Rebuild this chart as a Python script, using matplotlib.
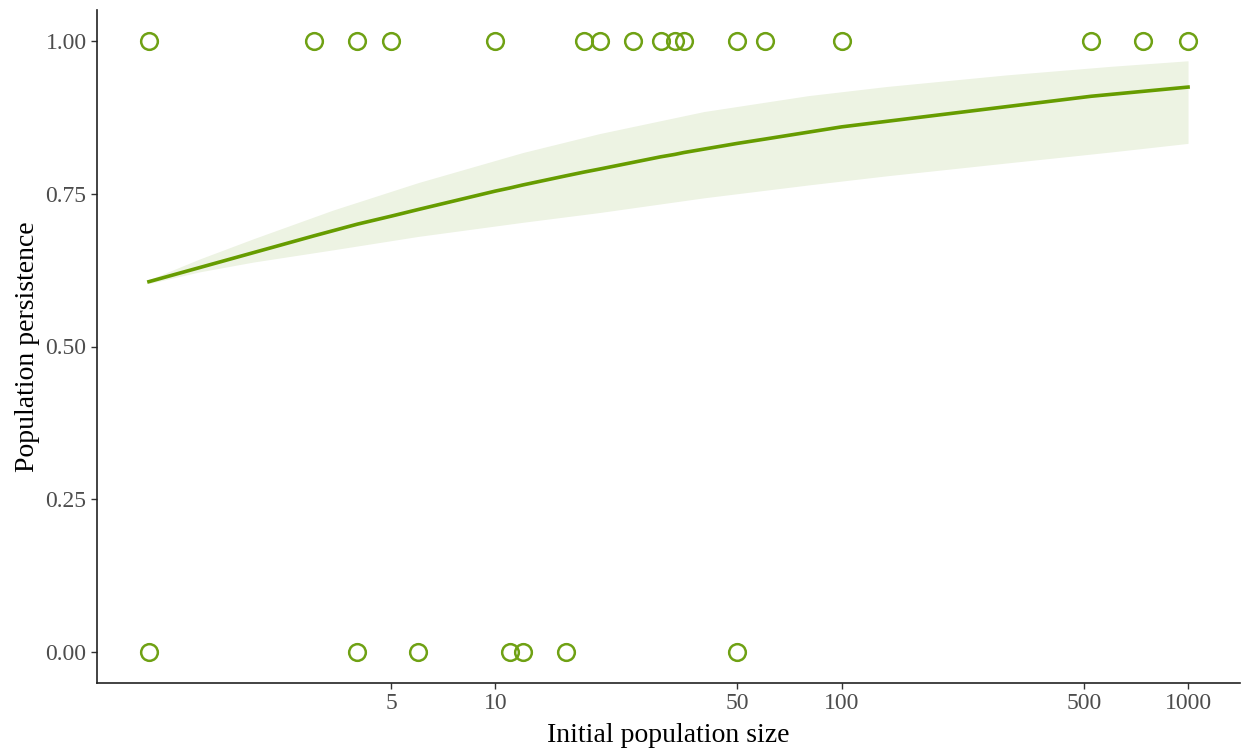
import numpy as np
import matplotlib.pyplot as plt

plt.rcParams['font.family'] = ['Liberation Serif', 'DejaVu Serif']

# observed populations (persisted = 1, went extinct = 0)
persist_x = [1, 3, 4, 5, 10, 18, 20, 25, 30, 33, 35, 50, 60, 100, 525, 740, 1000]
extinct_x = [1, 4, 6, 11, 12, 16, 50]

# fitted persistence curve
fit_x = [1, 3, 4, 5, 6, 10, 11, 12, 16, 18, 20, 25, 30, 33, 35, 50, 60, 100, 525, 740, 1000]
fit_y = [0.606, 0.681, 0.700, 0.713, 0.724, 0.754, 0.759, 0.764, 0.779, 0.785, 0.790,
         0.801, 0.810, 0.814, 0.817, 0.832, 0.839, 0.859, 0.909, 0.917, 0.924]

# confidence band
band_x = [1, 1.4, 2, 3.4, 6, 12, 20, 40, 80, 135, 300, 600, 1000]
band_lo = [0.603, 0.622, 0.638, 0.658, 0.680, 0.703, 0.719, 0.743, 0.764, 0.779, 0.800, 0.818, 0.832]
band_hi = [0.609, 0.643, 0.676, 0.723, 0.768, 0.817, 0.848, 0.884, 0.910, 0.925, 0.944, 0.958, 0.967]

green = '#669c00'

fig = plt.figure(figsize=(12.41, 7.53), dpi=100)
ax = fig.add_axes([97 / 1241, 70 / 753, 1143 / 1241, 673 / 753])

ax.fill_between(band_x, band_lo, band_hi, color='#edf3e3', lw=0, zorder=1)
ax.plot(fit_x, fit_y, color=green, lw=2.6, zorder=2)
ax.plot(persist_x, np.ones(len(persist_x)), 'o', ms=12, mfc='none', mec='#6fa114', mew=1.8, zorder=3)
ax.plot(extinct_x, np.zeros(len(extinct_x)), 'o', ms=12, mfc='none', mec='#6fa114', mew=1.8, zorder=3)

ax.set_xscale('log')
ax.set_xlim(10 ** -0.15, 10 ** 3.15)
ax.set_ylim(-0.05, 1.05)
ax.set_xticks([5, 10, 50, 100, 500, 1000])
ax.set_xticklabels(['5', '10', '50', '100', '500', '1000'])
ax.xaxis.set_minor_locator(plt.NullLocator())
ax.set_yticks([0, 0.25, 0.5, 0.75, 1.0])
ax.set_yticklabels(['0.00', '0.25', '0.50', '0.75', '1.00'])

for s in ['top', 'right']:
    ax.spines[s].set_visible(False)
for s in ['left', 'bottom']:
    ax.spines[s].set_linewidth(1.2)
    ax.spines[s].set_color('#222222')
ax.tick_params(labelsize=17, labelcolor='#4d4d4d', color='#333333', length=4, width=1)

ax.set_xlabel('Initial population size', fontsize=20, labelpad=6)
ax.set_ylabel('Population persistence', fontsize=20, labelpad=4)

fig.savefig('out.png', dpi=100)
